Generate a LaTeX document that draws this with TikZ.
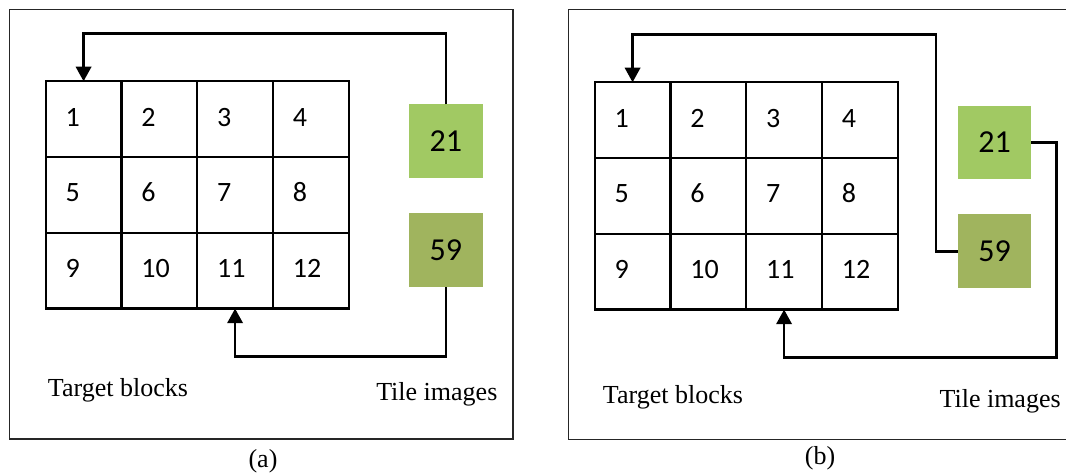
\documentclass[tikz,border=0pt]{standalone}
\usepackage{fontspec}
\setmainfont{Liberation Serif}
\newfontfamily\numfont{Carlito}
\usetikzlibrary{arrows.meta}
\definecolor{tileA}{RGB}{161,201,99}
\definecolor{tileB}{RGB}{160,180,94}
\tikzset{
  frame/.style={draw=black!85, line width=1.1pt},
  gridline/.style={line width=1.6pt, line cap=rect},
  cell/.style={rectangle, outer sep=0pt,
    minimum width=56.8125pt, minimum height=56.8125pt, text width=27pt,
    inner xsep=14.9pt, align=left, anchor=north west,
    text height=13.3pt, text depth=3pt,
    font=\numfont\fontsize{21}{22}\selectfont},
  tile/.style={rectangle, outer sep=0pt, inner sep=0pt, anchor=north west,
    minimum width=55.3pt, minimum height=55.3pt,
    font=\numfont\fontsize{24}{25}\selectfont},
  flow/.style={line width=2pt, -{Triangle[length=11pt,width=11.5pt]}},
  caption/.style={font=\fontsize{19.5}{22}\selectfont, anchor=base west, inner sep=0pt},
  sublabel/.style={font=\fontsize{19.5}{22}\selectfont, anchor=base, inner sep=0pt},
}
\begin{document}
\begin{tikzpicture}[x=0.75pt,y=-0.75pt]
\useasboundingbox (0,0) rectangle (1066,475);

% ---------- panel (a) ----------
\draw[frame] (9.5,9.5) rectangle (513,439);
\foreach \n in {1,...,12} {
  \pgfmathtruncatemacro\c{mod(\n-1,4)}
  \pgfmathtruncatemacro\r{div(\n-1,4)}
  \node[cell] (a\n) at (45.7+\c*75.75, 81.3+\r*75.75) {\n};
}
% grid of the target blocks
\draw[gridline] (a1.north west) rectangle (a12.south east);
\foreach \k in {2,3,4} \draw[gridline] (a\k.north west) -- (a\k.north west |- a12.south);
\foreach \k in {5,9} \draw[gridline] (a\k.north west) -- (a\k.north west -| a12.east);
\node[tile, fill=tileA] (ta21) at (409,104.3) {21};
\node[tile, fill=tileB] (ta59) at (409,213.3) {59};
\draw[flow] (ta21.north) -- ++(0,-71) -| (a1.north);
\draw[flow] (ta59.south) -- ++(0,69.3) -| (a11.south);
\node[caption] (ta) at (47.7,396.7) {Target blocks};
\node[caption] (ia) at (376,400) {Tile images};
\node[sublabel] (la) at (263,467) {(a)};

% ---------- panel (b) ----------
\draw[frame] (1070,9.3) -- (568.3,9.3) -- (568.3,439.3) -- (1070,439.3);
\foreach \n in {1,...,12} {
  \pgfmathtruncatemacro\c{mod(\n-1,4)}
  \pgfmathtruncatemacro\r{div(\n-1,4)}
  \node[cell] (b\n) at (594.7+\c*75.75, 82.3+\r*75.75) {\n};
}
\draw[gridline] (b1.north west) rectangle (b12.south east);
\foreach \k in {2,3,4} \draw[gridline] (b\k.north west) -- (b\k.north west |- b12.south);
\foreach \k in {5,9} \draw[gridline] (b\k.north west) -- (b\k.north west -| b12.east);
\node[tile, fill=tileA] (tb21) at (957.7,105.7) {21};
\node[tile, fill=tileB] (tb59) at (957.7,214.3) {59};
\draw[flow] (tb59.west) -| ++(-21.7,-216.7) -| (b1.north);
\draw[flow] (tb21.east) -| ++(25,214.7) -| (b11.south);
\node[caption] (tbk) at (602.7,403) {Target blocks};
\node[caption] (ib) at (939.3,407) {Tile images};
\node[sublabel] (lb) at (820,464) {(b)};
\end{tikzpicture}
\end{document}
